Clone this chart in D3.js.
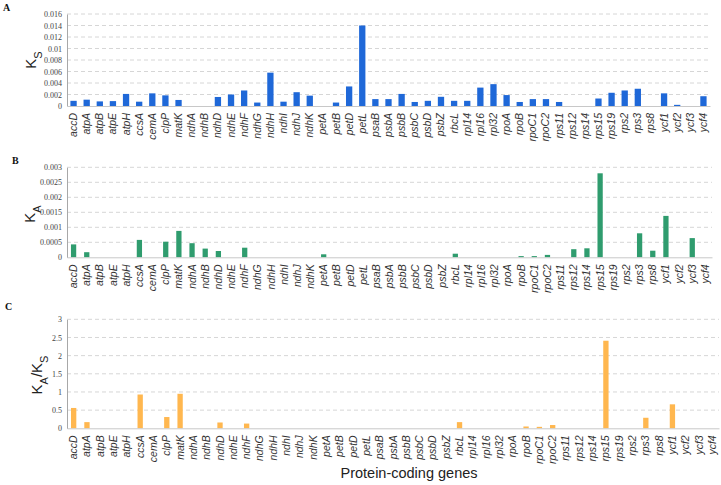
<!DOCTYPE html>
<html><head><meta charset="utf-8">
<script src="https://cdn.jsdelivr.net/npm/d3@7"></script>
<style>body{margin:0;background:#fff}svg{display:block}</style>
</head><body>
<svg id="c" width="721" height="485"></svg>
<script>
const genes = ["accD","atpA","atpB","atpE","atpH","ccsA","cemA","clpP","matK","ndhA","ndhB","ndhD","ndhE","ndhF","ndhG","ndhH","ndhI","ndhJ","ndhK","petA","petB","petD","petL","psaB","psbA","psbB","psbC","psbD","psbZ","rbcL","rpl14","rpl16","rpl32","rpoA","rpoB","rpoC1","rpoC2","rps11","rps12","rps14","rps15","rps19","rps2","rps3","rps8","ycf1","ycf2","ycf3","ycf4"];
const ksValues = [0.0009,0.0011,0.0008,0.00085,0.0021,0.00075,0.0022,0.00185,0.00105,0,0,0.00157,0.002,0.0027,0.0006,0.0058,0.00075,0.0024,0.0018,0,0.0006,0.0034,0.014,0.0012,0.0012,0.0021,0.0007,0.0009,0.0016,0.0009,0.0009,0.0032,0.0038,0.0019,0.0007,0.0012,0.0012,0.0007,0,0,0.0013,0.0023,0.0027,0.003,0,0.0022,0.0002,0,0.0017];
const kaValues = [0.00043,0.00017,0,0,0,0.00058,0,0.00052,0.00088,0.00047,0.00029,0.00021,0,0.00032,0,0,0,0,0,0.0001,0,0,0,0,0,0,0,0,0,0.00012,0,0,0,0,0.00004,0.00004,0.00008,0,0.00027,0.0003,0.0028,0,0,0.0008,0.00022,0.00138,0,0.00064,0];
const ratioValues = [0.56,0.17,0,0,0,0.93,0,0.31,0.95,0,0,0.16,0,0.13,0,0,0,0,0,0,0,0,0,0,0,0,0,0,0,0.17,0,0,0,0,0.05,0.04,0.09,0,0,0,2.41,0,0,0.29,0,0.66,0,0,0];
const ksTicks = [0,0.002,0.004,0.006,0.008,0.01,0.012,0.014,0.016];
const kaTicks = [0,0.0005,0.001,0.0015,0.002,0.0025,0.003];
const ratioTicks = [0,0.5,1,1.5,2,2.5,3];

const svg = d3.select("#c");
const SANS = "'Liberation Sans', Arial, sans-serif";
const SERIF = "'Liberation Serif', 'Times New Roman', serif";

const panels = [
  {letter:"A", lx:3, ly:11, vals:ksValues, ticks:ksTicks, max:0.016, x0:67, x1:710, y0:106, y1:14, color:"#1f68d8", pad:0.52,
   title:[["K",""],["S","sub"]], tx:36, ty:60},
  {letter:"B", lx:12, ly:164, vals:kaValues, ticks:kaTicks, max:0.003, x0:67, x1:712, y0:257.3, y1:167.3, color:"#2f9c6e", pad:0.6,
   title:[["K",""],["A","sub"]], tx:35, ty:214},
  {letter:"C", lx:5, ly:310, vals:ratioValues, ticks:ratioTicks, max:3, x0:67, x1:719, y0:428.3, y1:319.3, color:"#ffb74f", pad:0.6,
   title:[["K",""],["A","sub"],["/K",""],["S","sub"]], tx:42, ty:375}
];

panels.forEach(p => {
  const g = svg.append("g");
  const x = d3.scaleBand().domain(genes).range([p.x0, p.x1]).paddingInner(p.pad).paddingOuter(p.pad/2);
  const y = d3.scaleLinear().domain([0, p.max]).range([p.y0, p.y1]);

  // gridlines
  g.selectAll("line.grid").data(p.ticks.filter(t => t > 0)).join("line")
    .attr("x1", p.x0).attr("x2", p.x1)
    .attr("y1", d => y(d)).attr("y2", d => y(d))
    .attr("stroke", "#d6d6d6").attr("stroke-width", 1).attr("stroke-dasharray", "4,3");

  // y axis
  const ya = d3.axisLeft(y).tickValues(p.ticks).tickSize(0).tickPadding(5).tickFormat(d => String(+d.toPrecision(6)));
  const yg = g.append("g").attr("transform", `translate(${p.x0},0)`).call(ya);
  yg.select(".domain").attr("stroke", "#a8a8a8");
  yg.selectAll("text").attr("font-family", SERIF).attr("font-size", 8).attr("fill", "#444");

  // bars
  g.selectAll("rect").data(genes).join("rect")
    .attr("x", d => x(d)).attr("width", x.bandwidth())
    .attr("y", (d,i) => y(p.vals[i])).attr("height", (d,i) => p.y0 - y(p.vals[i]))
    .attr("fill", p.color);

  // x axis
  const xa = d3.axisBottom(x).tickSize(0).tickPadding(0);
  const xg = g.append("g").attr("transform", `translate(0,${p.y0})`).call(xa);
  xg.select(".domain").attr("stroke", "#c8c8c8");
  xg.selectAll("text")
    .attr("font-family", SANS).attr("font-size", 10.5).attr("font-style", "italic").attr("fill", "#333")
    .attr("text-anchor", "end").attr("dy", null).attr("y", 0)
    .attr("transform", "translate(3.5,7) rotate(-90)");

  // panel letter
  svg.append("text").attr("x", p.lx).attr("y", p.ly).text(p.letter)
    .attr("font-family", SERIF).attr("font-weight", "bold").attr("font-size", 10).attr("fill", "#111");

  // y title
  const t = svg.append("text").attr("transform", `translate(${p.tx},${p.ty}) rotate(-90)`)
    .attr("text-anchor", "middle").attr("font-family", SANS).attr("font-size", 15).attr("fill", "#222");
  p.title.forEach(([s, kind]) => {
    const ts = t.append("tspan").text(s);
    if (kind === "sub") ts.attr("baseline-shift", "sub").attr("font-size", 11);
  });
});

svg.append("text").attr("x", 409).attr("y", 478).attr("text-anchor", "middle")
  .attr("font-family", SANS).attr("font-size", 14.5).attr("fill", "#222").text("Protein-coding genes");
</script>
</body></html>
